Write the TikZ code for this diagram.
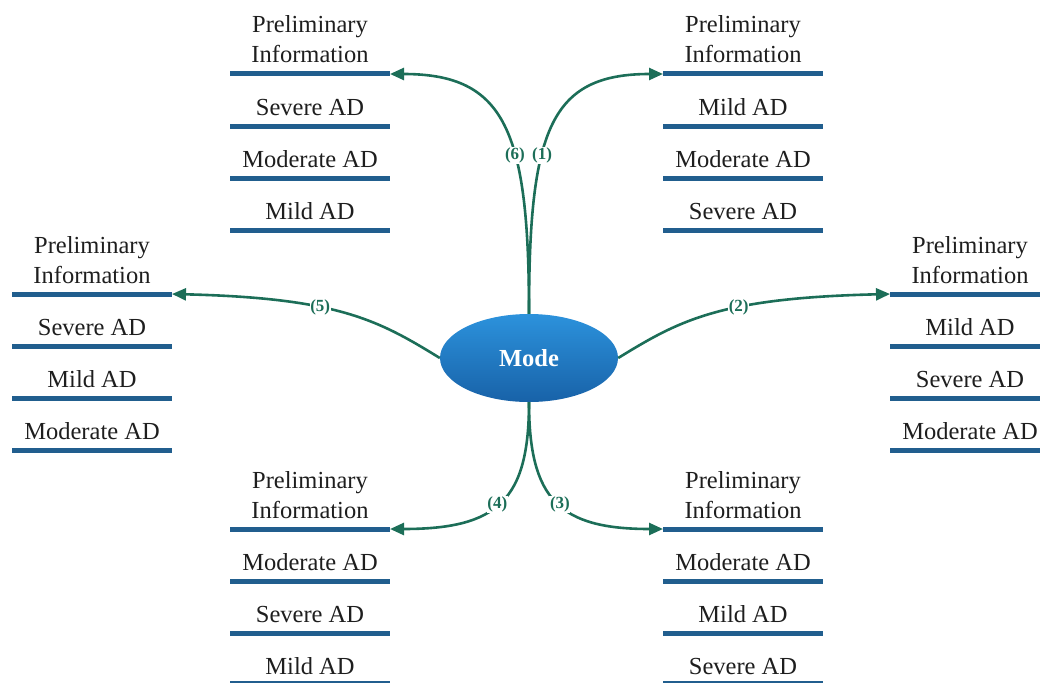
\documentclass[tikz,border=0pt]{standalone}
\usepackage{fontspec}
\setmainfont{Liberation Serif}
\usetikzlibrary{arrows.meta,shapes.geometric}
\definecolor{barblue}{RGB}{33,94,142}
\definecolor{linkgreen}{RGB}{28,110,88}
\definecolor{elltop}{RGB}{44,146,220}
\definecolor{ellbot}{RGB}{24,98,168}
\definecolor{txt}{RGB}{30,30,30}
\tikzset{
  item/.style={anchor=base, font=\fontsize{24.5}{28}\selectfont, text=txt, inner sep=0pt},
  barline/.style={draw=barblue, line width=5pt},
  link/.style={draw=linkgreen, line width=2.6pt, -{Triangle[length=14pt,width=12pt]}},
  lab/.style={font=\fontsize{17}{19}\selectfont\bfseries, text=linkgreen, fill=white, inner sep=0.6pt},
}
\newcommand\mygroup[5]{%
  \coordinate (#1l) at (#2-80,#3);
  \coordinate (#1r) at (#2+80,#3);
  \node[item] (#1p) at (#2,#3-41) {Preliminary};
  \node[item] (#1i) at (#2,#3-11) {Information};
  \draw[barline] (#1l) -- (#1r);
  \node[item] (#1a) at (#2,#3+41) {#4};
  \draw[barline] (#2-80,#3+52) -- (#2+80,#3+52);
}
\newcommand\myrest[4]{%
  \node[item] (#1b) at (#2,#3+93) {#4};
  \draw[barline] (#2-80,#3+104) -- (#2+80,#3+104);
}
\newcommand\mylast[5]{%
  \node[item] (#1c) at (#2,#3+145) {#4};
  \draw[barline] (#2-80,#3+#5) -- (#2+80,#3+#5);
}
\begin{document}
\begin{tikzpicture}[x=1pt,y=-1pt]
\useasboundingbox (0,0) rectangle (1040,682);
% groups
\mygroup{tl}{310}{74}{Severe AD}{}
\myrest{tl}{310}{74}{Moderate AD}
\mylast{tl}{310}{74}{Mild AD}{156}
\mygroup{tr}{743}{74}{Mild AD}{}
\myrest{tr}{743}{74}{Moderate AD}
\mylast{tr}{743}{74}{Severe AD}{156}
\mygroup{ml}{92}{294}{Severe AD}{}
\myrest{ml}{92}{294}{Mild AD}
\mylast{ml}{92}{294}{Moderate AD}{156}
\mygroup{mr}{970}{294}{Mild AD}{}
\myrest{mr}{970}{294}{Severe AD}
\mylast{mr}{970}{294}{Moderate AD}{156}
\mygroup{bl}{310}{529}{Moderate AD}{}
\myrest{bl}{310}{529}{Severe AD}
\mylast{bl}{310}{529}{Mild AD}{154}
\mygroup{br}{743}{529}{Moderate AD}{}
\myrest{br}{743}{529}{Mild AD}
\mylast{br}{743}{529}{Severe AD}{154}
% central node
\node[ellipse, minimum width=178pt, minimum height=88pt, inner sep=0pt,
      top color=elltop, bottom color=ellbot, draw=none,
      font=\fontsize{24.5}{28}\selectfont\bfseries, text=white] (mode) at (529,358) {Mode};
% connectors
\draw[link] (mode.north) .. controls (529,130) and (550,74) .. (trl)
  node[lab, pos=0.38] {(1)};
\draw[link] (mode.north) .. controls (529,130) and (505,74) .. (tlr)
  node[lab, pos=0.38] {(6)};
\draw[link] (mode.east) .. controls (680,320) and (720,298) .. (mrl)
  node[lab, pos=0.6] {(2)};
\draw[link] (mode.west) .. controls (378,320) and (338,298) .. (mlr)
  node[lab, pos=0.6] {(5)};
\draw[link] (mode.south) .. controls (529,500) and (560,529) .. (brl)
  node[lab, pos=0.52] {(3)};
\draw[link] (mode.south) .. controls (529,500) and (498,529) .. (blr)
  node[lab, pos=0.52] {(4)};
\end{tikzpicture}
\end{document}
